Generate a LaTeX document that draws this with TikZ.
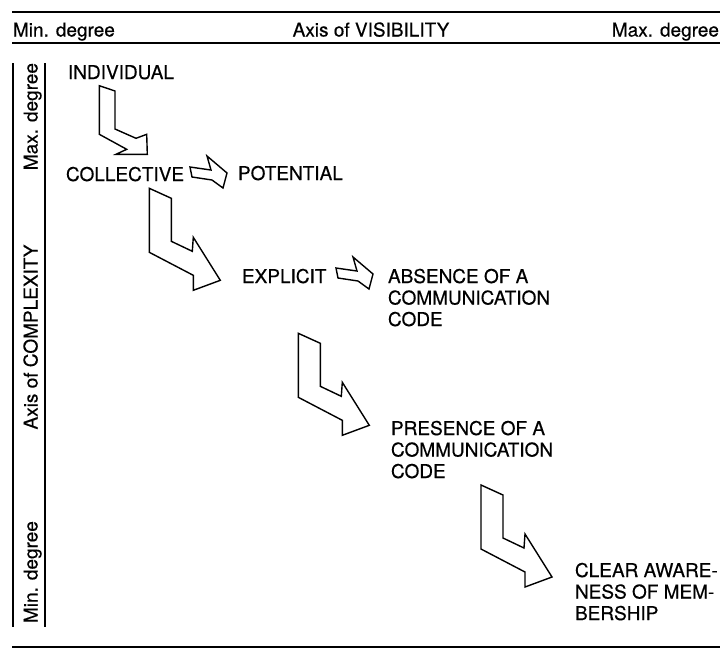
\documentclass[tikz,border=0pt]{standalone}
\usepackage{fontspec}
\setmainfont{TeX Gyre Heros}[FakeBold=0.4]
\begin{document}
\begin{tikzpicture}[x=1pt,y=-1pt,
  lbl/.style={inner sep=0pt, outer sep=0pt, font=\fontsize{19}{21.5}\selectfont, align=left},
  rule/.style={line width=2.6pt},
  axisline/.style={line width=2.2pt},
  blockline/.style={line width=1.4pt, line join=miter},
  bigarrow/.pic={\draw[blockline] (0,0) -- (22,10) -- (22,53) -- (43,63) -- (44,49)
      -- (71,92) -- (44,102) -- (44,87) -- (0,64) -- cycle;},
  smallarrow/.pic={\draw[blockline] (0,0) -- (21,3) -- (17,-11) -- (37,6)
      -- (33,21) -- (22,13) -- (2,10) -- cycle;}]
\useasboundingbox (0,0) rectangle (722,649);

% header band
\draw[rule] (12,12) -- (720,12);
\draw[rule] (12,43) -- (720,43);
\node[lbl, anchor=base west] (hmin) at (13,36.5) {Min. degree};
\node[lbl, anchor=base] (hax) at (371,36.5) {Axis of VISIBILITY};
\node[lbl, anchor=base east] (hmax) at (719,36.5) {Max. degree};

% vertical axis band
\draw[axisline] (13,63) -- (13,627);
\draw[axisline] (45,63) -- (45,627);
\node[lbl, rotate=90, anchor=base east] (vmax) at (37.5,63) {Max. degree};
\node[lbl, rotate=90, anchor=base] (vax) at (37.5,337) {Axis of COMPLEXITY};
\node[lbl, rotate=90, anchor=base west] (vmin) at (37.5,623) {Min. degree};

% bottom rule
\draw[rule] (12,647) -- (720,647);

% stages (multi-line labels are placed by the baseline of their last line)
\node[lbl, anchor=base west] (ind) at (68,79) {INDIVIDUAL};
\node[lbl, anchor=base west] (col) at (66,181) {COLLECTIVE};
\node[lbl, anchor=base west] (pot) at (238,180) {POTENTIAL};
\node[lbl, anchor=base west] (exp) at (242,283) {EXPLICIT};
\node[lbl, anchor=base west] (abs) at (388,326) {ABSENCE OF A\\COMMUNICATION\\CODE};
\node[lbl, anchor=base west] (pre) at (391,478) {PRESENCE OF A\\COMMUNICATION\\CODE};
\node[lbl, anchor=base west] (clr) at (575,620) {CLEAR AWARE-\\NESS OF MEM-\\BERSHIP};

% first bent arrow (smaller)
\draw[blockline] (99.3,85.7) -- (115,91) -- (115,129) -- (136,138.3) -- (146.7,134.3)
  -- (147.3,154.3) -- (116,154.3) -- (126.7,149.3) -- (99.3,134.3) -- cycle;

% remaining bent arrows
\pic at (149.3,188.3) {bigarrow};
\pic at (298.3,333.3) {bigarrow};
\pic at (481,485) {bigarrow};

% side arrows
\pic at (190,167) {smallarrow};
\pic at (336,268) {smallarrow};
\end{tikzpicture}
\end{document}
